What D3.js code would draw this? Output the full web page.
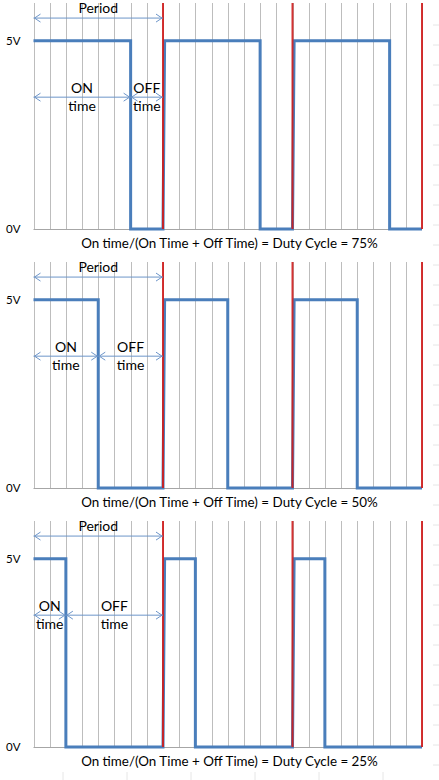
<!DOCTYPE html>
<html>
<head>
<meta charset="utf-8">
<script src="https://cdn.jsdelivr.net/npm/d3@7"></script>
<style>
  body { margin: 0; background: #fff; }
  svg { display: block; font-family: Lato, "Open Sans", sans-serif; }
</style>
</head>
<body>
<div id="viz"></div>
<script>
const width = 439, height = 780;

// time grid (one line per time unit) and period boundaries
const gridTimes = [0,1,2,3,4,5,6,7,8,9,10,11,12,13,14,15,16,17,18,19,20,21,22,23,24];
const periodEnds = [8, 16, 24];
const voltTicks = [0, 5];

// square waves, one per duty cycle
const t75 = [0, 6, 6, 8, 8.1, 14, 14, 16, 16.1, 22, 22, 24];
const v75 = [5, 5, 0, 0, 5,   5,  0,  0,  5,    5,  0,  0];
const t50 = [0, 4, 4, 8, 8.1, 12, 12, 16, 16.1, 20, 20, 24];
const v50 = [5, 5, 0, 0, 5,   5,  0,  0,  5,    5,  0,  0];
const t25 = [0, 2, 2, 8, 8.1, 10, 10, 16, 16.1, 18, 18, 24];
const v25 = [5, 5, 0, 0, 5,   5,  0,  0,  5,    5,  0,  0];

const dutyLabels = ["75%", "50%", "25%"];
const onTimes = [6, 4, 2];
const periodLen = 8;

const panels = [
  {t: t75, v: v75, duty: dutyLabels[0], on: onTimes[0], top: 0},
  {t: t50, v: v50, duty: dutyLabels[1], on: onTimes[1], top: 259},
  {t: t25, v: v25, duty: dutyLabels[2], on: onTimes[2], top: 518}
];

const svg = d3.select("#viz").append("svg").attr("width", width).attr("height", height);

const x = d3.scaleLinear().domain([0, 24]).range([33.5, 422]);

// faint spreadsheet cell ticks in the background
svg.append("g").selectAll("line").data(d3.range(25, 780, 20)).enter().append("line")
  .attr("x1", 433).attr("x2", 439).attr("y1", d => d).attr("y2", d => d)
  .attr("stroke", "#e6e6e6");
svg.append("g").selectAll("line").data([63, 127, 191, 255, 319, 383]).enter().append("line")
  .attr("x1", d => d).attr("x2", d => d).attr("y1", 772).attr("y2", 780)
  .attr("stroke", "#e6e6e6");

const arrowColor = "#6d95c9";

function arrow(g, x1, x2, yy) {
  g.append("line").attr("x1", x1).attr("x2", x2).attr("y1", yy).attr("y2", yy)
    .attr("stroke", arrowColor).attr("stroke-width", 1);
  g.append("path").attr("d", `M${x1 + 7},${yy - 4}L${x1 + 1},${yy}L${x1 + 7},${yy + 4}`)
    .attr("fill", "none").attr("stroke", arrowColor).attr("stroke-width", 1);
  g.append("path").attr("d", `M${x2 - 7},${yy - 4}L${x2 - 1},${yy}L${x2 - 7},${yy + 4}`)
    .attr("fill", "none").attr("stroke", arrowColor).attr("stroke-width", 1);
}

panels.forEach(p => {
  const g = svg.append("g").attr("transform", `translate(0,${p.top})`);
  const y = d3.scaleLinear().domain([0, 6]).range([229, 3]);

  // vertical grid
  g.append("g").selectAll("line").data(gridTimes).enter().append("line")
    .attr("x1", d => Math.round(x(d)) + 0.5).attr("x2", d => Math.round(x(d)) + 0.5)
    .attr("y1", y(6)).attr("y2", y(0))
    .attr("stroke", "#bdbdbd").attr("stroke-width", 1);

  // baseline
  g.append("line").attr("x1", x(0)).attr("x2", x(24)).attr("y1", y(0) + 0.5).attr("y2", y(0) + 0.5)
    .attr("stroke", "#a6a6a6");

  // voltage labels
  g.append("g").attr("transform", `translate(${x(0)},0)`)
    .call(d3.axisLeft(y).tickValues(voltTicks).tickSize(0).tickPadding(13).tickFormat(d => d + "V"))
    .call(a => a.select(".domain").remove())
    .call(a => a.selectAll("text").attr("font-size", 11.5).attr("font-family", "Lato, sans-serif").attr("fill", "#000"));

  // signal
  const pts = p.t.map((t, i) => [t, p.v[i]]);
  g.append("path").datum(pts)
    .attr("d", d3.line().x(d => x(d[0])).y(d => y(d[1])))
    .attr("fill", "none").attr("stroke", "#4a7ebb").attr("stroke-width", 3)
    .attr("stroke-linejoin", "miter");

  // period boundaries
  g.append("g").selectAll("line").data(periodEnds).enter().append("line")
    .attr("x1", d => x(d)).attr("x2", d => x(d))
    .attr("y1", y(6)).attr("y2", y(0))
    .attr("stroke", "#d01c1c").attr("stroke-width", 2).attr("opacity", 0.9);

  // Period arrow
  arrow(g, x(0), x(periodLen), y(5.6));
  g.append("text").attr("x", x(periodLen / 2)).attr("y", y(5.6) - 5)
    .attr("text-anchor", "middle").attr("font-size", 14).text("Period");

  // ON / OFF arrows
  const ay = y(3.5);
  arrow(g, x(0), x(p.on), ay);
  arrow(g, x(p.on), x(periodLen), ay);
  [[p.on / 2, "ON"], [(p.on + periodLen) / 2, "OFF"]].forEach(([c, lab]) => {
    g.append("text").attr("x", x(c)).attr("y", ay - 4)
      .attr("text-anchor", "middle").attr("font-size", 14).text(lab);
    g.append("text").attr("x", x(c)).attr("y", ay + 14)
      .attr("text-anchor", "middle").attr("font-size", 14).text("time");
  });

  // formula caption
  g.append("text").attr("x", 229.5).attr("y", 248)
    .attr("text-anchor", "middle").attr("font-size", 13.4)
    .text(`On time/(On Time + Off Time) = Duty Cycle = ${p.duty}`);
});
</script>
</body>
</html>
